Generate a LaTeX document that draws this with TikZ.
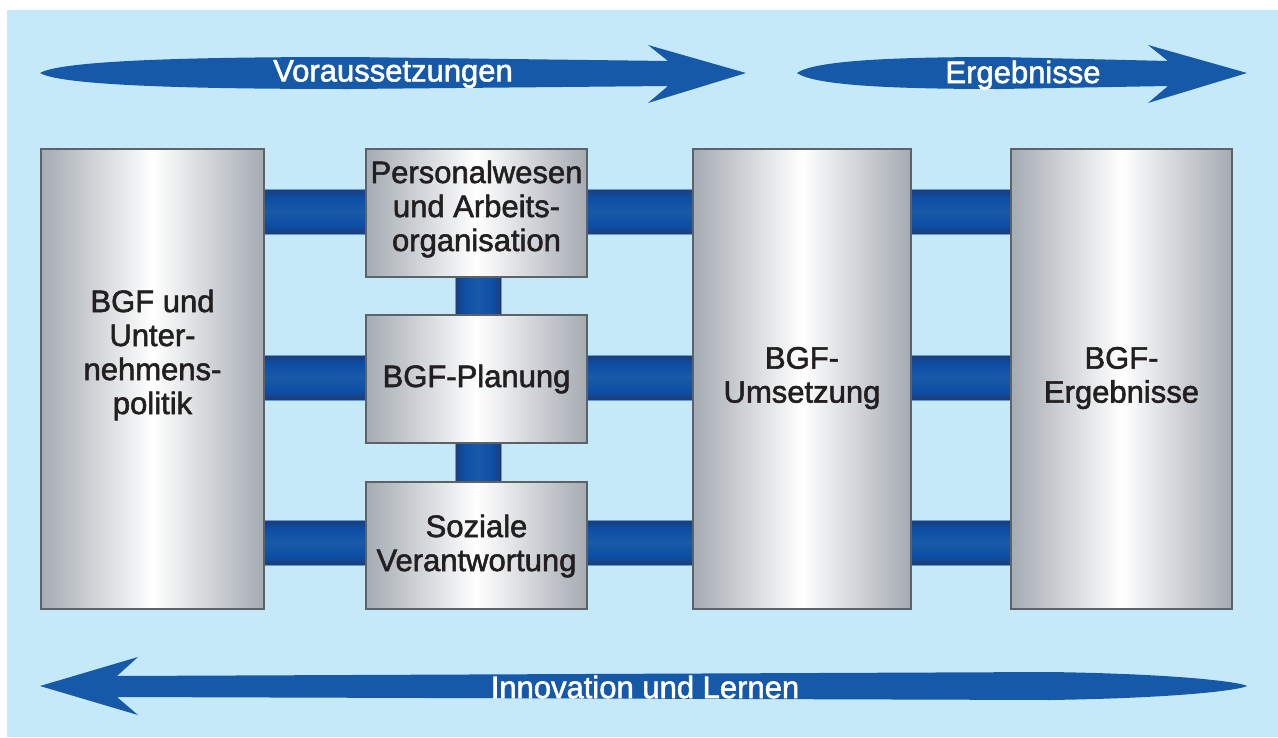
\documentclass[tikz,border=0pt]{standalone}
\usepackage{fontspec}
\setmainfont{Liberation Sans}[RawFeature={embolden=1.8}]

\definecolor{bgBlue}{HTML}{C6E9F9}
\definecolor{arrowBlue}{HTML}{1659A9}
\definecolor{boxGray}{HTML}{A5ABB2}
\definecolor{boxEdge}{HTML}{5C6266}
\definecolor{inkDark}{HTML}{231F20}
\definecolor{pipeDark}{HTML}{1F3C79}
\definecolor{pipeBright}{HTML}{0B4EA5}
\definecolor{pipeMid}{HTML}{1A59A8}
\definecolor{pipeEdge}{HTML}{5E9ED9}

% tube look for the connecting pipes
\pgfdeclareverticalshading{pipeshade}{100bp}{%
  color(0bp)=(pipeDark); color(26bp)=(pipeDark); color(34bp)=(pipeBright);
  color(50bp)=(pipeMid); color(66bp)=(pipeBright); color(74bp)=(pipeDark);
  color(100bp)=(pipeDark)}

\tikzset{
  box/.style={draw=boxEdge, line width=2.5pt, left color=boxGray,
    right color=boxGray, middle color=white, inner sep=0pt},
  boxtext/.style={text=inkDark, align=center, font=\fontsize{31}{34}\selectfont},
  arrowtext/.style={text=white, font=\fontsize{31}{34}\selectfont},
  hpipe/.style={shading=pipeshade},
  vpipe/.style={shading=pipeshade, shading angle=90},
  pipeline/.style={draw=pipeEdge, line width=1pt},
  bigarrow/.style={fill=arrowBlue},
}

\begin{document}
\begin{tikzpicture}[x=1pt,y=-1pt]
\useasboundingbox (0,0) rectangle (1278,737);
\fill[white] (0,0) rectangle (1278,737);
\fill[bgBlue] (7,10) rectangle (1278,737);

% flow arrows
\fill[bigarrow] (40,73) .. controls (62,60) and (200,57) .. (350,57)
  -- (668,61) -- (648,45) -- (746,73) -- (648,103) -- (668,86)
  -- (350,89) .. controls (200,89) and (62,86) .. (40,73) -- cycle;
\fill[bigarrow] (797,73) .. controls (815,60) and (900,57) .. (1000,57)
  -- (1168,61) -- (1148,45) -- (1247,73) -- (1148,103) -- (1168,86)
  -- (1000,89) .. controls (900,89) and (815,86) .. (797,73) -- cycle;
\fill[bigarrow] (40,686) -- (138,657) -- (117,676) -- (1050,672)
  .. controls (1180,674) and (1240,682) .. (1247,686)
  .. controls (1240,690) and (1180,698) .. (1050,700)
  -- (117,697) -- (138,715) -- cycle;

\node[arrowtext] (t1) at (393,74) {Voraussetzungen};
\node[arrowtext] (t2) at (1023,75) {Ergebnisse};
\node[arrowtext] (t3) at (645,687) {Innovation und Lernen};

% box centres
\coordinate (Lc) at (152.5,379);
\coordinate (P1c) at (476.5,213);
\coordinate (P2c) at (476.5,379);
\coordinate (P3c) at (476.5,545.5);
\coordinate (Uc) at (802,379);
\coordinate (Ec) at (1121.5,379);

% pipe rows (top and bottom edges) and columns (left and right edges)
\coordinate (r1a) at (0,189); \coordinate (r1b) at (0,234);
\coordinate (r2a) at (0,355); \coordinate (r2b) at (0,400);
\coordinate (r3a) at (0,520); \coordinate (r3b) at (0,565);
\coordinate (ca) at (455,0);  \coordinate (cb) at (501,0);

% pipes run behind the boxes, from box to box
\foreach \ra/\rb in {r1a/r1b, r2a/r2b, r3a/r3b}{
  \path[hpipe] (Lc |- \ra) rectangle (Ec |- \rb);
  \draw[pipeline] (Lc |- \ra) -- (Ec |- \ra);
  \draw[pipeline] (Lc |- \rb) -- (Ec |- \rb);
}
\path[vpipe] (P1c -| ca) rectangle (P3c -| cb);
\draw[pipeline] (P1c -| ca) -- (P3c -| ca);
\draw[pipeline] (P1c -| cb) -- (P3c -| cb);

% boxes
\node[box, minimum width=223pt, minimum height=460pt] (L) at (Lc) {};
\node[box, minimum width=221pt, minimum height=128pt] (P1) at (P1c) {};
\node[box, minimum width=221pt, minimum height=128pt] (P2) at (P2c) {};
\node[box, minimum width=221pt, minimum height=127pt] (P3) at (P3c) {};
\node[box, minimum width=218pt, minimum height=460pt] (U) at (Uc) {};
\node[box, minimum width=221pt, minimum height=460pt] (E) at (Ec) {};

% box labels
\node[boxtext] (Lt) at (152.5,355) {BGF und\\Unter-\\nehmens-\\politik};
\node[boxtext] (P1t) at (476.5,209) {Personalwesen\\und Arbeits-\\organisation};
\node[boxtext] (P2t) at (476.5,379) {BGF-Planung};
\node[boxtext] (P3t) at (476.5,546) {Soziale\\Verantwortung};
\node[boxtext] (Ut) at (802,378) {BGF-\\Umsetzung};
\node[boxtext] (Et) at (1121.5,378) {BGF-\\Ergebnisse};
\end{tikzpicture}
\end{document}
